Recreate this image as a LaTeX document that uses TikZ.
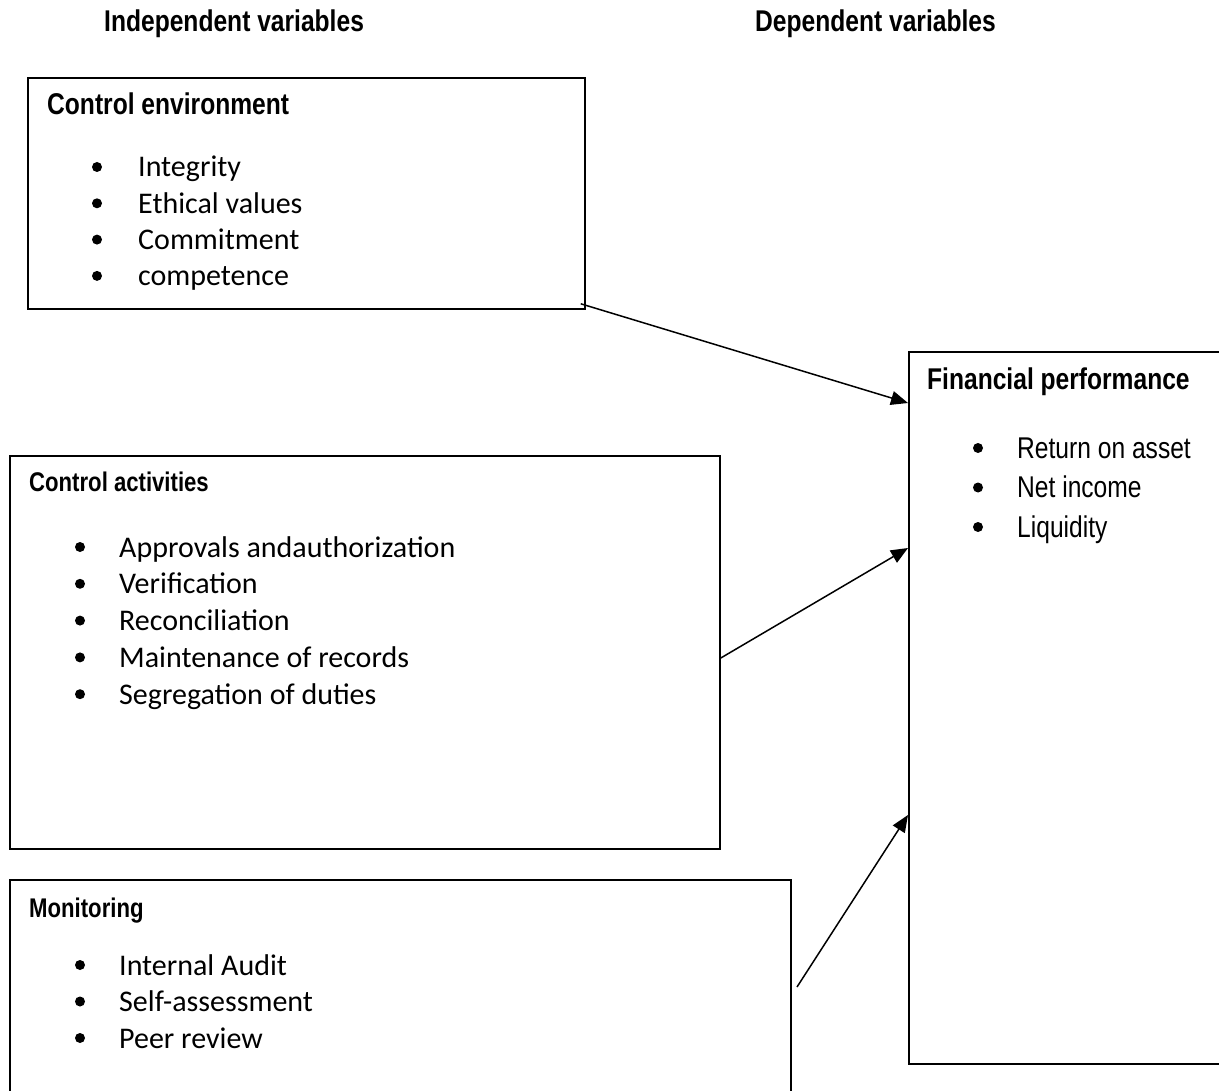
\documentclass[tikz,border=0pt]{standalone}
\usepackage{fontspec}
\setmainfont{Carlito}
\newfontfamily\narrowfont{Liberation Sans}[FakeStretch=0.82]
\usetikzlibrary{arrows.meta}
\tikzset{
  box/.style={draw, line width=1.8pt, inner sep=0pt, anchor=north west},
  hdr/.style={anchor=base west, inner sep=0pt, font=\narrowfont\bfseries\fontsize{30}{36}\selectfont},
  hdrsm/.style={hdr, font=\narrowfont\bfseries\fontsize{27}{32}\selectfont},
  itm/.style={anchor=base west, inner sep=0pt, font=\fontsize{30}{36}\selectfont},
  itmar/.style={itm, font=\narrowfont\fontsize{30}{36}\selectfont},
  link/.style={-{Triangle[length=17pt,width=14pt]}, line width=1.5pt},
}

\begin{document}
\begin{tikzpicture}[x=1pt,y=-1pt]
  \fill[white, use as bounding box] (0,0) rectangle (1219,1091);

  % column headings
  \node[hdr] (indep) at (104,32) {Independent variables};
  \node[hdr] (dep) at (755,32) {Dependent variables};

  % boxes
  \node[box, minimum width=557pt, minimum height=231pt] (ce) at (27,77) {};
  \node[box, minimum width=710pt, minimum height=393pt] (ca) at (9,455) {};
  \node[box, minimum width=781pt, minimum height=230pt] (mo) at (9,879) {};
  \node[box, minimum width=330pt, minimum height=712pt] (fp) at (908,351) {};

  % control environment
  \node[hdr] (cetitle) at (47,115) {Control environment};
  \foreach \t [count=\i from 0] in {Integrity, Ethical values, Commitment, competence}{
    \node[itm] (ce\i) at (138,177+36.3*\i) {\t};
    \fill (97,167+36.3*\i) circle (5pt);
  }

  % control activities
  \node[hdrsm] (catitle) at (29,491) {Control activities};
  \foreach \t [count=\i from 0] in {Approvals andauthorization, Verification, Reconciliation,
      Maintenance of records, Segregation of duties}{
    \node[itm] (ca\i) at (119,557+36.8*\i) {\t};
    \fill (80,547+36.8*\i) circle (5pt);
  }

  % monitoring
  \node[hdrsm] (motitle) at (29,917) {Monitoring};
  \foreach \t [count=\i from 0] in {Internal Audit, Self-assessment, Peer review}{
    \node[itm] (mo\i) at (119,975+36.5*\i) {\t};
    \fill (80,965+36.5*\i) circle (5pt);
  }

  % financial performance
  \node[hdr] (fptitle) at (927,390) {Financial performance};
  \foreach \t [count=\i from 0] in {Return on asset, Net income, Liquidity}{
    \node[itmar] (fp\i) at (1017,458+39.5*\i) {\t};
    \fill (978,448+39.5*\i) circle (5pt);
  }

  % arrows
  \coordinate (mostart) at (797,987);
  \draw[link] ([shift={(-5,-6)}]ce.south east) -- (fp.west |- 0,403);
  \draw[link] (ca.east |- 0,658) -- (fp.west |- 0,548);
  \draw[link] (mostart) -- (fp.west |- 0,815);
\end{tikzpicture}
\end{document}
